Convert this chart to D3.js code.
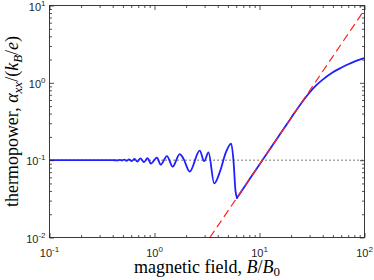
<!DOCTYPE html>
<html>
<head>
<meta charset="utf-8">
<script src="https://cdn.jsdelivr.net/npm/d3@7"></script>
<style>
  body { margin: 0; background: #fff; }
  svg { display: block; }
</style>
</head>
<body>
<div id="chart"></div>
<script>
// ---------------------------------------------------------------------------
// Data

// blue curve: magnetic field B/B0 and thermopower alpha_xx/(kB/e)
const fieldB = [0.1, 0.395, 0.447, 0.468, 0.49, 0.516, 0.542, 0.572, 0.607, 0.645,
  0.687, 0.734, 0.794, 0.858, 0.924, 1.054, 1.146, 1.313, 1.49, 1.738,
  1.877, 2.164, 2.695, 2.974, 3.268, 3.703, 4.224, 4.764, 5.377, 5.654,
  5.907, 6.1, 8, 10, 15, 20, 25, 30, 35, 40,
  50, 60, 70, 80, 90, 100];
const thermo = [0.1, 0.1, 0.0996, 0.1009, 0.0991, 0.1015, 0.0982, 0.1024, 0.0971, 0.1039,
  0.0956, 0.1052, 0.0945, 0.1062, 0.0904, 0.108, 0.0874, 0.113, 0.0824, 0.1196,
  0.1062, 0.0712, 0.1327, 0.0971, 0.1262, 0.0501, 0.0727, 0.1243, 0.1641, 0.098,
  0.04, 0.0325, 0.0563, 0.088, 0.198, 0.352, 0.545, 0.75, 0.94, 1.1,
  1.37, 1.57, 1.74, 1.88, 1.99, 2.08];

// red dashed asymptote (straight in log-log)
const asymB = [3.37, 100];
const asymA = [0.01, 8.8];

// dotted reference level
const levelB = [0.1, 100];
const levelA = [0.1, 0.1];

// axes
const xDomain = [0.1, 100];
const yDomain = [0.01, 10];
const xMajor = [0.1, 1, 10, 100];
const yMajor = [0.01, 0.1, 1, 10];

// ---------------------------------------------------------------------------
// Layout

const width = 374;
const height = 280;
const plotLeft = 49.5, plotRight = 364.5, plotTop = 5.5, plotBottom = 237.5;
const axisColor = '#262626';

const svg = d3.select('#chart')
  .append('svg')
  .attr('width', width)
  .attr('height', height);

const x = d3.scaleLog().domain(xDomain).range([plotLeft, plotRight]);
const y = d3.scaleLog().domain(yDomain).range([plotBottom, plotTop]);

svg.append('clipPath').attr('id', 'clip')
  .append('rect')
  .attr('x', plotLeft).attr('y', plotTop)
  .attr('width', plotRight - plotLeft).attr('height', plotBottom - plotTop);

const plot = svg.append('g').attr('clip-path', 'url(#clip)');

const straight = d3.line()
  .x(d => x(d[0]))
  .y(d => y(d[1]));

const smooth = d3.line()
  .x(d => x(d[0]))
  .y(d => y(d[1]))
  .curve(d3.curveMonotoneX);

// dotted level
plot.append('path')
  .datum(d3.zip(levelB, levelA))
  .attr('d', straight)
  .attr('fill', 'none')
  .attr('stroke', '#222')
  .attr('stroke-width', 1)
  .attr('stroke-dasharray', '1.2,2.8');

// blue curve, split at the sharp minimum so the corner stays sharp
const bluePts = d3.zip(fieldB, thermo);
const iMin = d3.minIndex(bluePts.filter(d => d[0] < 10), d => d[1]);
[bluePts.slice(0, iMin + 1), bluePts.slice(iMin)].forEach(part => {
  plot.append('path')
    .datum(part)
    .attr('d', smooth)
    .attr('fill', 'none')
    .attr('stroke', '#1f1fff')
    .attr('stroke-width', 1.8)
    .attr('stroke-linejoin', 'round')
    .attr('stroke-linecap', 'round');
});

// red dashed asymptote
plot.append('path')
  .datum(d3.zip(asymB, asymA))
  .attr('d', straight)
  .attr('fill', 'none')
  .attr('stroke', '#ff2020')
  .attr('stroke-width', 1.2)
  .attr('stroke-dasharray', '8,4.5');

// ---------------------------------------------------------------------------
// Axes: ticks inward on all four sides

const xMinor = x.ticks().filter(d => !xMajor.some(m => Math.abs(m - d) < 1e-9));
const yMinor = y.ticks().filter(d => !yMajor.some(m => Math.abs(m - d) < 1e-9));

function drawTicks(axisFn, scale, pos, values, size) {
  const g = svg.append('g')
    .attr('transform', pos)
    .call(axisFn(scale).tickValues(values).tickSize(-size).tickFormat(''));
  g.select('.domain').remove();
  g.selectAll('line').attr('stroke', axisColor).attr('stroke-width', 0.8);
}

drawTicks(d3.axisBottom, x, `translate(0,${plotBottom})`, xMinor, 2.5);
drawTicks(d3.axisBottom, x, `translate(0,${plotBottom})`, xMajor, 4.5);
drawTicks(d3.axisTop, x, `translate(0,${plotTop})`, xMinor, 2.5);
drawTicks(d3.axisTop, x, `translate(0,${plotTop})`, xMajor, 4.5);
drawTicks(d3.axisLeft, y, `translate(${plotLeft},0)`, yMinor, 2.5);
drawTicks(d3.axisLeft, y, `translate(${plotLeft},0)`, yMajor, 4.5);
drawTicks(d3.axisRight, y, `translate(${plotRight},0)`, yMinor, 2.5);
drawTicks(d3.axisRight, y, `translate(${plotRight},0)`, yMajor, 4.5);

svg.append('rect')
  .attr('x', plotLeft).attr('y', plotTop)
  .attr('width', plotRight - plotLeft).attr('height', plotBottom - plotTop)
  .attr('fill', 'none')
  .attr('stroke', axisColor)
  .attr('stroke-width', 0.9);

// tick labels as 10^n
function powerLabel(sel) {
  sel.append('tspan').text('10');
  sel.append('tspan')
    .attr('dy', -5)
    .attr('font-size', 8)
    .text(d => Math.round(Math.log10(d)).toString());
}

svg.append('g')
  .selectAll('text')
  .data(xMajor)
  .enter()
  .append('text')
  .attr('x', d => x(d))
  .attr('y', plotBottom + 19)
  .attr('text-anchor', 'middle')
  .attr('font-family', 'Liberation Sans, Arial, sans-serif')
  .attr('font-size', 11)
  .attr('fill', axisColor)
  .call(powerLabel);

svg.append('g')
  .selectAll('text')
  .data(yMajor)
  .enter()
  .append('text')
  .attr('x', plotLeft - 4)
  .attr('y', d => y(d) + 5)
  .attr('text-anchor', 'end')
  .attr('font-family', 'Liberation Sans, Arial, sans-serif')
  .attr('font-size', 11)
  .attr('fill', axisColor)
  .call(powerLabel);

// ---------------------------------------------------------------------------
// Axis titles

const serif = 'Liberation Serif, Times New Roman, serif';

const xTitle = svg.append('text')
  .attr('x', (plotLeft + plotRight) / 2)
  .attr('y', 273)
  .attr('text-anchor', 'middle')
  .attr('font-family', serif)
  .attr('font-size', 18)
  .attr('fill', '#000');
xTitle.append('tspan').text('magnetic field, ');
xTitle.append('tspan').attr('font-style', 'italic').text('B');
xTitle.append('tspan').text('/');
xTitle.append('tspan').attr('font-style', 'italic').text('B');
xTitle.append('tspan').attr('dy', 3).attr('font-size', 13).text('0');

const yTitle = svg.append('text')
  .attr('transform', `translate(18,${(plotTop + plotBottom) / 2}) rotate(-90)`)
  .attr('text-anchor', 'middle')
  .attr('font-family', serif)
  .attr('font-size', 18)
  .attr('fill', '#000');
yTitle.append('tspan').text('thermopower, ');
yTitle.append('tspan').attr('font-style', 'italic').text('α');
yTitle.append('tspan').attr('dy', 4).attr('font-size', 13).attr('font-style', 'italic').text('xx');
yTitle.append('tspan').attr('dy', -4).text('/(');
yTitle.append('tspan').attr('font-style', 'italic').text('k');
yTitle.append('tspan').attr('dy', 4).attr('font-size', 13).attr('font-style', 'italic').text('B');
yTitle.append('tspan').attr('dy', -4).text('/');
yTitle.append('tspan').attr('font-style', 'italic').text('e');
yTitle.append('tspan').text(')');
</script>
</body>
</html>
